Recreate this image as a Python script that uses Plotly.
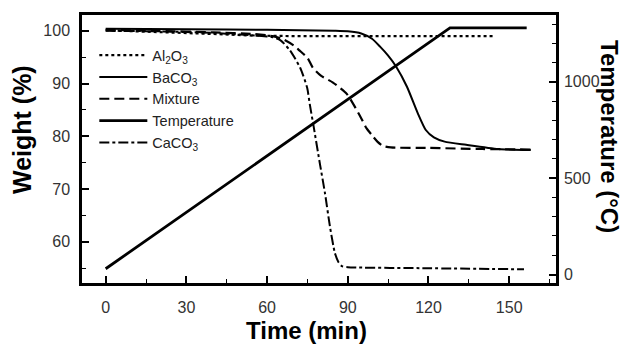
import plotly.graph_objects as go

# ---- data ----
al2o3_t = [0, 20, 40, 55, 70, 144]
al2o3_w = [100.1, 99.8, 99.4, 99.1, 99.0, 99.0]

baco3_t = [0, 30, 60, 85, 90, 95, 99, 102, 105, 108, 112, 116, 119, 122, 126, 134, 146, 158]
baco3_w = [100.4, 100.3, 100.2, 100.0, 99.9, 99.5, 98.5, 97.0, 95.3, 93.2, 89.4, 84.4, 81.2, 79.8, 79.0, 78.4, 77.6, 77.4]

mix_t = [0, 20, 40, 55, 62, 66, 70, 72, 75, 77, 80, 84.5, 89.7, 94.5, 97, 99, 101, 103, 106, 120, 140, 158]
mix_w = [100.2, 100.0, 99.7, 99.4, 99.0, 98.4, 97.2, 96.3, 94.9, 93.0, 91.5, 90.2, 88.0, 83.9, 81.5, 80.2, 79.0, 78.2, 77.9, 77.8, 77.6, 77.5]

temp_t = [0, 128, 156.5]
temp_c = [30, 1280, 1280]

caco3_t = [0, 20, 40, 50, 58, 62, 65, 68.5, 72.3, 74.9, 75.9, 77.1, 79.7, 81.5, 83.4, 85.2, 86.5, 87.8, 90, 120, 155.5]
caco3_w = [100.0, 99.9, 99.6, 99.3, 99.0, 98.8, 98.2, 96.3, 93.0, 89.2, 86.0, 82.5, 74.6, 69.3, 62.8, 57.9, 56.2, 55.4, 55.2, 55.0, 54.8]

x_ticks = [0, 30, 60, 90, 120, 150]
y_ticks = [60, 70, 80, 90, 100]
y2_ticks = [0, 500, 1000]

FONT = "Arial, Liberation Sans, sans-serif"

fig = go.Figure()
fig.add_trace(go.Scatter(x=al2o3_t, y=al2o3_w, mode="lines", name="Al<sub>2</sub>O<sub>3</sub>",
                         line=dict(color="black", width=2.2, dash="3px,3px")))
fig.add_trace(go.Scatter(x=baco3_t, y=baco3_w, mode="lines", name="BaCO<sub>3</sub>",
                         line=dict(color="black", width=2, shape="spline", smoothing=0.6)))
fig.add_trace(go.Scatter(x=mix_t, y=mix_w, mode="lines", name="Mixture",
                         line=dict(color="black", width=2.2, dash="10px,5px", shape="spline", smoothing=0.6)))
fig.add_trace(go.Scatter(x=temp_t, y=temp_c, mode="lines", name="Temperature", yaxis="y2",
                         line=dict(color="black", width=2.8)))
fig.add_trace(go.Scatter(x=caco3_t, y=caco3_w, mode="lines", name="CaCO<sub>3</sub>",
                         line=dict(color="black", width=2, dash="10px,3px,3px,3px", shape="spline", smoothing=0.6)))

axis_common = dict(showline=True, linecolor="black", linewidth=2.5, ticks="inside",
                   tickcolor="black", tickwidth=1.5, ticklen=7, showgrid=False, zeroline=False,
                   tickfont=dict(family=FONT, size=16, color="#333"))

fig.update_layout(
    width=629, height=347,
    margin=dict(l=82, r=73, t=15, b=64),
    paper_bgcolor="white", plot_bgcolor="white",
    showlegend=True,
    legend=dict(x=0.026, y=0.91, xanchor="left", yanchor="top", bgcolor="rgba(0,0,0,0)",
                font=dict(family=FONT, size=14.5, color="#222"), itemwidth=48,
                tracegroupgap=0),
    xaxis=dict(range=[-8.8, 167.4], tickvals=x_ticks, mirror=True,
               minor=dict(dtick=15, tick0=0, ticks="inside", ticklen=4, tickcolor="black", tickwidth=1.2),
               ticklabelstandoff=8, **axis_common),
    yaxis=dict(range=[52.2, 103], tickvals=y_ticks,
               minor=dict(dtick=5, tick0=0, ticks="inside", ticklen=4, tickcolor="black", tickwidth=1.2),
               ticklabelstandoff=6, **axis_common),
    yaxis2=dict(range=[-44, 1347], tickvals=y2_ticks, overlaying="y", side="right",
                minor=dict(dtick=100, tick0=0, ticks="inside", ticklen=4, tickcolor="black", tickwidth=1.2),
                ticklabelstandoff=2, **axis_common),
    annotations=[
        dict(text="<b>Time (min)</b>", x=0.4726, y=-0.179, xref="paper", yref="paper",
             xanchor="center", yanchor="middle", showarrow=False,
             font=dict(family=FONT, size=24, color="black")),
        dict(text="<b>Weight (%)</b>", x=-0.1266, y=0.5746, xref="paper", yref="paper",
             xanchor="center", yanchor="middle", showarrow=False, textangle=-90,
             font=dict(family=FONT, size=25, color="black")),
        dict(text="<b>Temperature (°C)</b>", x=1.1118, y=0.5448, xref="paper", yref="paper",
             xanchor="center", yanchor="middle", showarrow=False, textangle=90,
             font=dict(family=FONT, size=24, color="black")),
    ],
)

fig.write_html("out.html")
